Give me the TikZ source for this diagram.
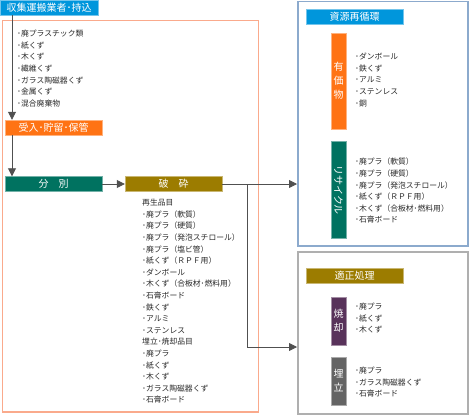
\documentclass[tikz,border=0pt]{standalone}
\usepackage{fontspec}
\setmainfont{Noto Sans CJK JP}
\usepackage{graphicx}
\usetikzlibrary{arrows.meta,positioning,calc}
\definecolor{srcblue}{RGB}{0,150,220}
\definecolor{recvorange}{RGB}{255,115,20}
\definecolor{sortgreen}{RGB}{0,114,96}
\definecolor{crusholive}{RGB}{156,124,0}
\definecolor{burnpurple}{RGB}{88,50,90}
\definecolor{fillgray}{RGB}{100,100,100}
\definecolor{plantline}{RGB}{250,170,140}
\definecolor{cycleline}{RGB}{140,170,205}
\definecolor{properline}{RGB}{175,175,175}
\definecolor{linkgray}{RGB}{80,80,80}
\definecolor{txtgray}{RGB}{40,40,40}

\begin{document}
\begin{tikzpicture}[x=1pt, y=-1pt,
  tagbox/.style={fill=#1, draw=#1!55!white, text=white, minimum width=97pt, minimum height=15pt, inner sep=0pt, font=\fontsize{10}{10}\selectfont},
  barbox/.style={fill=#1, draw=#1!55!white, text=white, minimum width=15pt, inner sep=0pt, font=\fontsize{10}{14}\selectfont, align=center},
  frame/.style={draw=#1, line width=1.5pt, anchor=north west, inner sep=0pt},
  items/.style={anchor=north west, inner sep=0pt, align=left, text=txtgray, font=\fontsize{7.8}{11.6}\selectfont},
  arr/.style={draw=linkgray, line width=0.8pt, -{Triangle[length=8pt,width=8pt]}}]
\useasboundingbox (0,0) rectangle (470,414);
\node[frame=plantline, minimum width=256pt, minimum height=391pt] (plant) at (1.5,20) {};
\node[frame=cycleline, minimum width=170pt, minimum height=244pt] (cycle) at (297,1) {};
\node[frame=properline, minimum width=170pt, minimum height=162pt] (proper) at (297,251) {};

\node[tagbox=srcblue, minimum width=98pt, anchor=north west] (src) at (0,0) {収集運搬業者･持込};
\node[tagbox=recvorange] (recv) at (53.5,127.5) {受入･貯留･保管};
\node[tagbox=sortgreen] (sort) at (53.5,184) {分\hspace{10pt}別};
\node[tagbox=crusholive] (crush) at (173.5,184) {破\hspace{10pt}砕};
\node[tagbox=srcblue] (cycletag) at (354.5,16.5) {資源再循環};
\node[tagbox=crusholive] (propertag) at (354.5,275.5) {適正処理};

\node[barbox=recvorange, minimum height=96pt] (valued) at (338.5,81) {有\\価\\物};
\node[barbox=sortgreen, minimum height=97pt] (recycle) at (338.5,190) {\rotatebox{-90}{リサイクル}};
\node[barbox=burnpurple, minimum height=48pt] (burn) at (338.5,321) {焼\\却};
\node[barbox=fillgray, minimum height=48pt] (landfill) at (338.5,381) {埋\\立};

\node[items] (wastes) at (17,30) {･廃プラスチック類\\･紙くず\\･木くず\\･繊維くず\\･ガラス陶磁器くず\\･金属くず\\･混合廃棄物};
\node[items] (products) at (142,199) {再生品目\\･廃プラ（軟質）\\･廃プラ（硬質）\\･廃プラ（発泡スチロール）\\･廃プラ（塩ビ管）\\･紙くず（ＲＰＦ用）\\･ダンボール\\･木くず（合板材･燃料用）\\･石膏ボード\\･鉄くず\\･アルミ\\･ステンレス\\埋立･焼却品目\\･廃プラ\\･紙くず\\･木くず\\･ガラス陶磁器くず\\･石膏ボード};
\node[items] (valueditems) at (355,53) {･ダンボール\\･鉄くず\\･アルミ\\･ステンレス\\･銅};
\node[items] (recycleitems) at (355,158) {･廃プラ（軟質）\\･廃プラ（硬質）\\･廃プラ（発泡スチロール）\\･紙くず（ＲＰＦ用）\\･木くず（合板材･燃料用）\\･石膏ボード};
\node[items] (burnitems) at (355,303) {･廃プラ\\･紙くず\\･木くず};
\node[items] (landfillitems) at (355,367) {･廃プラ\\･ガラス陶磁器くず\\･石膏ボード};

\coordinate (feedline) at (12,0);
\coordinate (split) at (247,347);
\draw[arr] (src.south -| feedline) -- (recv.north -| feedline);
\draw[arr] (recv.south -| feedline) -- (sort.north -| feedline);
\draw[arr] (sort) -- (crush);
\draw[arr] (crush.east) -- (crush.east -| cycle.west);
\draw[arr] (crush.east -| split) |- (proper.west |- split);
\end{tikzpicture}
\end{document}
